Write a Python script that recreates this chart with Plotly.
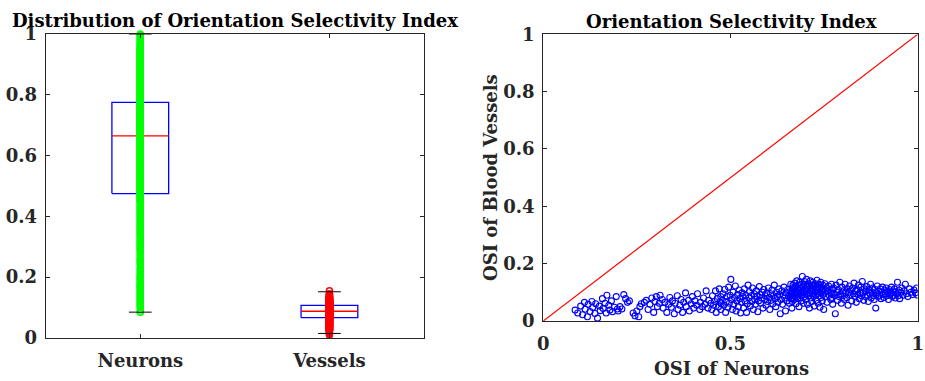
import plotly.graph_objects as go

# ---------------------------------------------------------------------------
# Orientation selectivity index (OSI) per imaged site: neurons vs. vessels
# ---------------------------------------------------------------------------
neuron_osi = [
    0.085, 0.092, 0.100, 0.105, 0.110, 0.112, 0.118, 0.120, 0.125, 0.130,
    0.132, 0.138, 0.140, 0.145, 0.150, 0.152, 0.158, 0.160, 0.165, 0.168,
    0.170, 0.175, 0.178, 0.182, 0.185, 0.190, 0.195, 0.198, 0.200, 0.205,
    0.210, 0.215, 0.220, 0.225, 0.230, 0.240, 0.245, 0.250, 0.255, 0.258,
    0.262, 0.270, 0.275, 0.280, 0.285, 0.290, 0.295, 0.298,
    0.302, 0.305, 0.310, 0.312, 0.318, 0.320, 0.325, 0.330, 0.335, 0.338,
    0.342, 0.345, 0.350, 0.352, 0.358, 0.360, 0.365, 0.368, 0.372, 0.375,
    0.380, 0.382, 0.388, 0.390, 0.395, 0.398, 0.402, 0.405, 0.410, 0.412,
    0.418, 0.420, 0.425, 0.428, 0.432, 0.435, 0.440, 0.442, 0.448, 0.450,
    0.452, 0.455, 0.458, 0.460, 0.462, 0.465, 0.468, 0.470, 0.472, 0.474,
    0.474, 0.475,
    0.478, 0.480, 0.482, 0.485, 0.487, 0.489, 0.491, 0.493, 0.495, 0.497,
    0.499, 0.501, 0.503, 0.505, 0.507, 0.509, 0.511, 0.513, 0.515, 0.517,
    0.519, 0.521, 0.523, 0.525, 0.527, 0.529, 0.531, 0.533, 0.535, 0.537,
    0.539, 0.541, 0.543, 0.545, 0.547, 0.549, 0.551, 0.553, 0.555, 0.557,
    0.559, 0.561, 0.563, 0.565, 0.567, 0.569, 0.571, 0.573, 0.575, 0.577,
    0.579, 0.581, 0.583, 0.585, 0.587, 0.589, 0.591, 0.593, 0.595, 0.597,
    0.599, 0.601, 0.603, 0.605, 0.607, 0.609, 0.611, 0.613, 0.615, 0.617,
    0.619, 0.621, 0.623, 0.625, 0.627, 0.629, 0.631, 0.633, 0.635, 0.637,
    0.639, 0.641, 0.643, 0.645, 0.647, 0.649, 0.651, 0.653, 0.655, 0.657,
    0.659, 0.661, 0.662, 0.663, 0.664, 0.665, 0.665, 0.665, 0.665, 0.665,
    0.666, 0.667, 0.668, 0.669, 0.670, 0.671, 0.672, 0.673, 0.674, 0.675,
    0.676, 0.677, 0.678, 0.679, 0.680, 0.681, 0.682, 0.683, 0.684, 0.685,
    0.686, 0.687, 0.688, 0.689, 0.690, 0.691, 0.692, 0.693, 0.694, 0.695,
    0.696, 0.697, 0.698, 0.699, 0.700, 0.701, 0.702, 0.703, 0.704, 0.705,
    0.706, 0.707, 0.708, 0.709, 0.710, 0.711, 0.712, 0.713, 0.714, 0.715,
    0.716, 0.717, 0.718, 0.719, 0.720, 0.721, 0.722, 0.723, 0.724, 0.725,
    0.726, 0.727, 0.728, 0.729, 0.730, 0.731, 0.732, 0.733, 0.734, 0.735,
    0.736, 0.737, 0.738, 0.739, 0.740, 0.741, 0.742, 0.743, 0.744, 0.745,
    0.746, 0.747, 0.748, 0.749, 0.750, 0.752, 0.754, 0.756, 0.758, 0.760,
    0.762, 0.764, 0.766, 0.768, 0.769, 0.770, 0.771, 0.772, 0.773, 0.774,
    0.776, 0.778, 0.780, 0.782, 0.784, 0.786, 0.788, 0.790, 0.792, 0.794,
    0.796, 0.798, 0.800, 0.802, 0.804, 0.806, 0.808, 0.810, 0.812, 0.814,
    0.816, 0.818, 0.820, 0.822, 0.824, 0.826, 0.828, 0.830, 0.832, 0.834,
    0.836, 0.838, 0.840, 0.842, 0.844, 0.846, 0.848, 0.850, 0.852, 0.854,
    0.856, 0.858, 0.860, 0.862, 0.864, 0.866, 0.868, 0.870, 0.872, 0.874,
    0.876, 0.878, 0.880, 0.882, 0.884, 0.886, 0.888, 0.890, 0.892, 0.894,
    0.896, 0.898, 0.900, 0.902, 0.904, 0.906, 0.908, 0.910, 0.912, 0.914,
    0.916, 0.918, 0.920, 0.922, 0.924, 0.926, 0.928, 0.930, 0.932, 0.934,
    0.936, 0.938, 0.940, 0.942, 0.944, 0.946, 0.948, 0.950, 0.952, 0.955,
    0.958, 0.961, 0.964, 0.967, 0.970, 0.974, 0.978, 0.982, 0.986, 0.990,
    0.994, 0.997, 1.000,
]

vessel_osi = [
    0.038, 0.028, 0.052, 0.022, 0.065, 0.041, 0.015, 0.058, 0.033, 0.068,
    0.047, 0.026, 0.060, 0.010, 0.052, 0.036, 0.078, 0.044, 0.062, 0.028,
    0.090, 0.055, 0.038, 0.070, 0.032, 0.048, 0.085, 0.042, 0.035, 0.050,
    0.042, 0.092, 0.078, 0.065, 0.070, 0.028, 0.018, 0.035, 0.015, 0.050,
    0.060, 0.065, 0.072, 0.040, 0.058, 0.080, 0.030, 0.068,
    0.085, 0.050, 0.062, 0.090, 0.075, 0.045, 0.065, 0.030, 0.058, 0.082,
    0.048, 0.070, 0.025, 0.062, 0.088, 0.040, 0.055, 0.075, 0.030, 0.065,
    0.098, 0.050, 0.072, 0.035, 0.060, 0.085, 0.045, 0.070, 0.055, 0.095,
    0.040, 0.065, 0.050, 0.080, 0.058, 0.105, 0.045, 0.072, 0.062, 0.040,
    0.088, 0.055, 0.068, 0.105, 0.030, 0.078, 0.050, 0.112, 0.065, 0.085,
    0.040, 0.060,
    0.072, 0.095, 0.055, 0.110, 0.030, 0.068, 0.085, 0.048, 0.118, 0.062,
    0.090, 0.145, 0.075, 0.040, 0.100, 0.058, 0.082, 0.122, 0.035, 0.070,
    0.092, 0.050, 0.108, 0.078, 0.028, 0.065, 0.098, 0.085, 0.045, 0.112,
    0.070, 0.090, 0.030, 0.060, 0.125, 0.080, 0.102, 0.052, 0.088, 0.068,
    0.115, 0.040, 0.095, 0.075, 0.058, 0.105, 0.085, 0.032, 0.070, 0.120,
    0.092, 0.062, 0.080, 0.100, 0.045, 0.110, 0.075, 0.088, 0.055, 0.098,
    0.068, 0.115, 0.082, 0.040, 0.095, 0.072, 0.108, 0.060, 0.088, 0.125,
    0.078, 0.050, 0.100, 0.085, 0.065, 0.112, 0.092, 0.025, 0.075, 0.105,
    0.058, 0.090, 0.118, 0.080, 0.035, 0.098, 0.070, 0.110, 0.085, 0.062,
    0.102, 0.128, 0.078, 0.095, 0.045, 0.088, 0.115, 0.068, 0.100, 0.082,
    0.105, 0.125, 0.088, 0.112, 0.075, 0.098, 0.132, 0.085, 0.118, 0.060,
    0.102, 0.140, 0.092, 0.110, 0.078, 0.125, 0.095, 0.050, 0.108, 0.135,
    0.082, 0.115, 0.100, 0.070, 0.128, 0.090, 0.155, 0.105, 0.120, 0.062,
    0.098, 0.138, 0.085, 0.112, 0.128, 0.075, 0.102, 0.145, 0.092, 0.118,
    0.058, 0.108, 0.130, 0.088, 0.122, 0.045, 0.098, 0.140, 0.080, 0.115,
    0.105, 0.068, 0.125, 0.095, 0.135, 0.110, 0.085, 0.120, 0.052, 0.100,
    0.130, 0.090, 0.115, 0.072, 0.108, 0.142, 0.095, 0.120, 0.062, 0.102,
    0.128, 0.088, 0.112, 0.048, 0.098, 0.135, 0.082, 0.118, 0.105, 0.070,
    0.125, 0.092, 0.110, 0.040, 0.100, 0.130, 0.085, 0.115, 0.065, 0.105,
    0.122, 0.090, 0.110, 0.075, 0.098, 0.128, 0.082, 0.112, 0.058, 0.095,
    0.115, 0.090, 0.025, 0.125, 0.100, 0.072, 0.110, 0.085, 0.135, 0.095,
    0.062, 0.118, 0.088, 0.105, 0.075, 0.128, 0.098, 0.082, 0.112, 0.055,
    0.100, 0.122, 0.090, 0.108, 0.070, 0.115, 0.095, 0.132, 0.085, 0.105,
    0.065, 0.110, 0.092, 0.125, 0.078, 0.100, 0.118, 0.088, 0.138, 0.098,
    0.072, 0.112, 0.085, 0.105, 0.120, 0.090, 0.068, 0.108, 0.095, 0.128,
    0.080, 0.100, 0.115, 0.088, 0.075, 0.110, 0.045, 0.098, 0.122, 0.085,
    0.105, 0.090, 0.112, 0.078, 0.100, 0.118, 0.092, 0.082, 0.108, 0.095,
    0.115, 0.088, 0.102, 0.075, 0.110, 0.092, 0.098, 0.118, 0.085, 0.105,
    0.090, 0.112, 0.080, 0.100, 0.095, 0.135, 0.088, 0.108, 0.078, 0.100,
    0.115, 0.090, 0.105, 0.128, 0.095, 0.085, 0.112, 0.100, 0.092, 0.108,
    0.098, 0.115, 0.090,
]

assert len(neuron_osi) == len(vessel_osi)

# Box-plot summary for each group (Neurons, Vessels)
groups = ["Neurons", "Vessels"]
group_pos = [1, 2]
box_q1 = [0.475, 0.067]
box_median = [0.665, 0.088]
box_q3 = [0.775, 0.107]
whisker_low = [0.085, 0.015]
whisker_high = [1.000, 0.152]
point_colors = ["#00ff00", "#ff0000"]

# Identity reference line for the scatter
identity = [0, 1]

y_ticks = [0, 0.2, 0.4, 0.6, 0.8, 1]
y_ticktext = ["0", "0.2", "0.4", "0.6", "0.8", "1"]
x2_ticks = [0, 0.5, 1]
x2_ticktext = ["0", "0.5", "1"]

FONT = "DejaVu Serif"
INK = "#262626"
BOX_W = 0.30
CAP_W = 0.12

fig = go.Figure()

# ---- left panel: box plots with raw values overlaid -----------------------
for pos, q1, med, q3, lo, hi in zip(group_pos, box_q1, box_median, box_q3,
                                    whisker_low, whisker_high):
    x0, x1 = pos - BOX_W / 2, pos + BOX_W / 2
    fig.add_trace(go.Scatter(
        x=[pos, pos, None, pos, pos], y=[q3, hi, None, q1, lo],
        mode="lines", line=dict(color="black", width=1, dash="dash"),
        xaxis="x", yaxis="y", hoverinfo="skip"))
    fig.add_trace(go.Scatter(
        x=[x0, x1, x1, x0, x0], y=[q1, q1, q3, q3, q1],
        mode="lines", line=dict(color="#0000ff", width=1.3),
        xaxis="x", yaxis="y", hoverinfo="skip"))
    fig.add_trace(go.Scatter(
        x=[x0, x1], y=[med, med],
        mode="lines", line=dict(color="#ff0000", width=1.3),
        xaxis="x", yaxis="y", hoverinfo="skip"))

for pos, values, col in zip(group_pos, [neuron_osi, vessel_osi], point_colors):
    fig.add_trace(go.Scatter(
        x=[pos] * len(values), y=values, mode="markers",
        marker=dict(symbol="circle-open", color=col, size=6,
                    line=dict(width=1.5, color=col)),
        cliponaxis=False, xaxis="x", yaxis="y"))

for pos, lo, hi in zip(group_pos, whisker_low, whisker_high):
    fig.add_trace(go.Scatter(
        x=[pos - CAP_W / 2, pos + CAP_W / 2, None, pos - CAP_W / 2, pos + CAP_W / 2],
        y=[hi, hi, None, lo, lo],
        mode="lines", line=dict(color="black", width=1),
        xaxis="x", yaxis="y", hoverinfo="skip"))

# ---- right panel: vessel OSI against neuron OSI ---------------------------
fig.add_trace(go.Scatter(
    x=identity, y=identity, mode="lines",
    line=dict(color="#ff0000", width=1.2), xaxis="x2", yaxis="y2"))
fig.add_trace(go.Scatter(
    x=neuron_osi, y=vessel_osi, mode="markers",
    marker=dict(symbol="circle-open", color="#0000ff", size=6,
                line=dict(width=1.1, color="#0000ff")),
    xaxis="x2", yaxis="y2"))

tickfont = dict(family=FONT, size=18, color=INK, weight="bold")
axis_common = dict(showline=True, linecolor=INK, linewidth=1, mirror="ticks",
                   ticks="inside", ticklen=4, tickcolor=INK, tickwidth=1,
                   showgrid=False, zeroline=False, automargin=False,
                   tickfont=tickfont)

fig.update_layout(
    width=925, height=381,
    margin=dict(l=0, r=0, t=0, b=0, autoexpand=False),
    paper_bgcolor="white", plot_bgcolor="white",
    showlegend=False,
    xaxis=dict(domain=[0.0494, 0.4584], range=[0.5, 2.5], anchor="y",
               tickvals=group_pos, ticktext=groups, ticklabelstandoff=6,
               **axis_common),
    yaxis=dict(domain=[0.1129, 0.9108], range=[0, 1], anchor="x",
               tickvals=y_ticks, ticktext=y_ticktext, ticklabelstandoff=4,
               **axis_common),
    xaxis2=dict(domain=[0.5873, 0.9921], range=[0, 1], anchor="y2",
                tickvals=x2_ticks, ticktext=x2_ticktext, ticklabelstandoff=6,
                **axis_common),
    yaxis2=dict(domain=[0.1575, 0.91], range=[0, 1], anchor="x2",
                tickvals=y_ticks, ticktext=y_ticktext, ticklabelstandoff=4,
                **axis_common),
)

title_font = dict(family=FONT, size=18, color="black", weight="bold")
label_font = dict(family=FONT, size=18, color=INK, weight="bold")
fig.add_annotation(text="Distribution of Orientation Selectivity Index",
                   x=235 / 925, y=1 - 20 / 381, xref="paper", yref="paper",
                   xanchor="center", yanchor="middle", showarrow=False,
                   font=title_font)
fig.add_annotation(text="Orientation Selectivity Index",
                   x=731 / 925, y=1 - 21 / 381, xref="paper", yref="paper",
                   xanchor="center", yanchor="middle", showarrow=False,
                   font=title_font)
fig.add_annotation(text="OSI of Neurons",
                   x=731 / 925, y=1 - 368 / 381, xref="paper", yref="paper",
                   xanchor="center", yanchor="middle", showarrow=False,
                   font=label_font)
fig.add_annotation(text="OSI of Blood Vessels", textangle=-90,
                   x=490 / 925, y=1 - 178 / 381, xref="paper", yref="paper",
                   xanchor="center", yanchor="middle", showarrow=False,
                   font=label_font)

fig.write_html("out.html")
